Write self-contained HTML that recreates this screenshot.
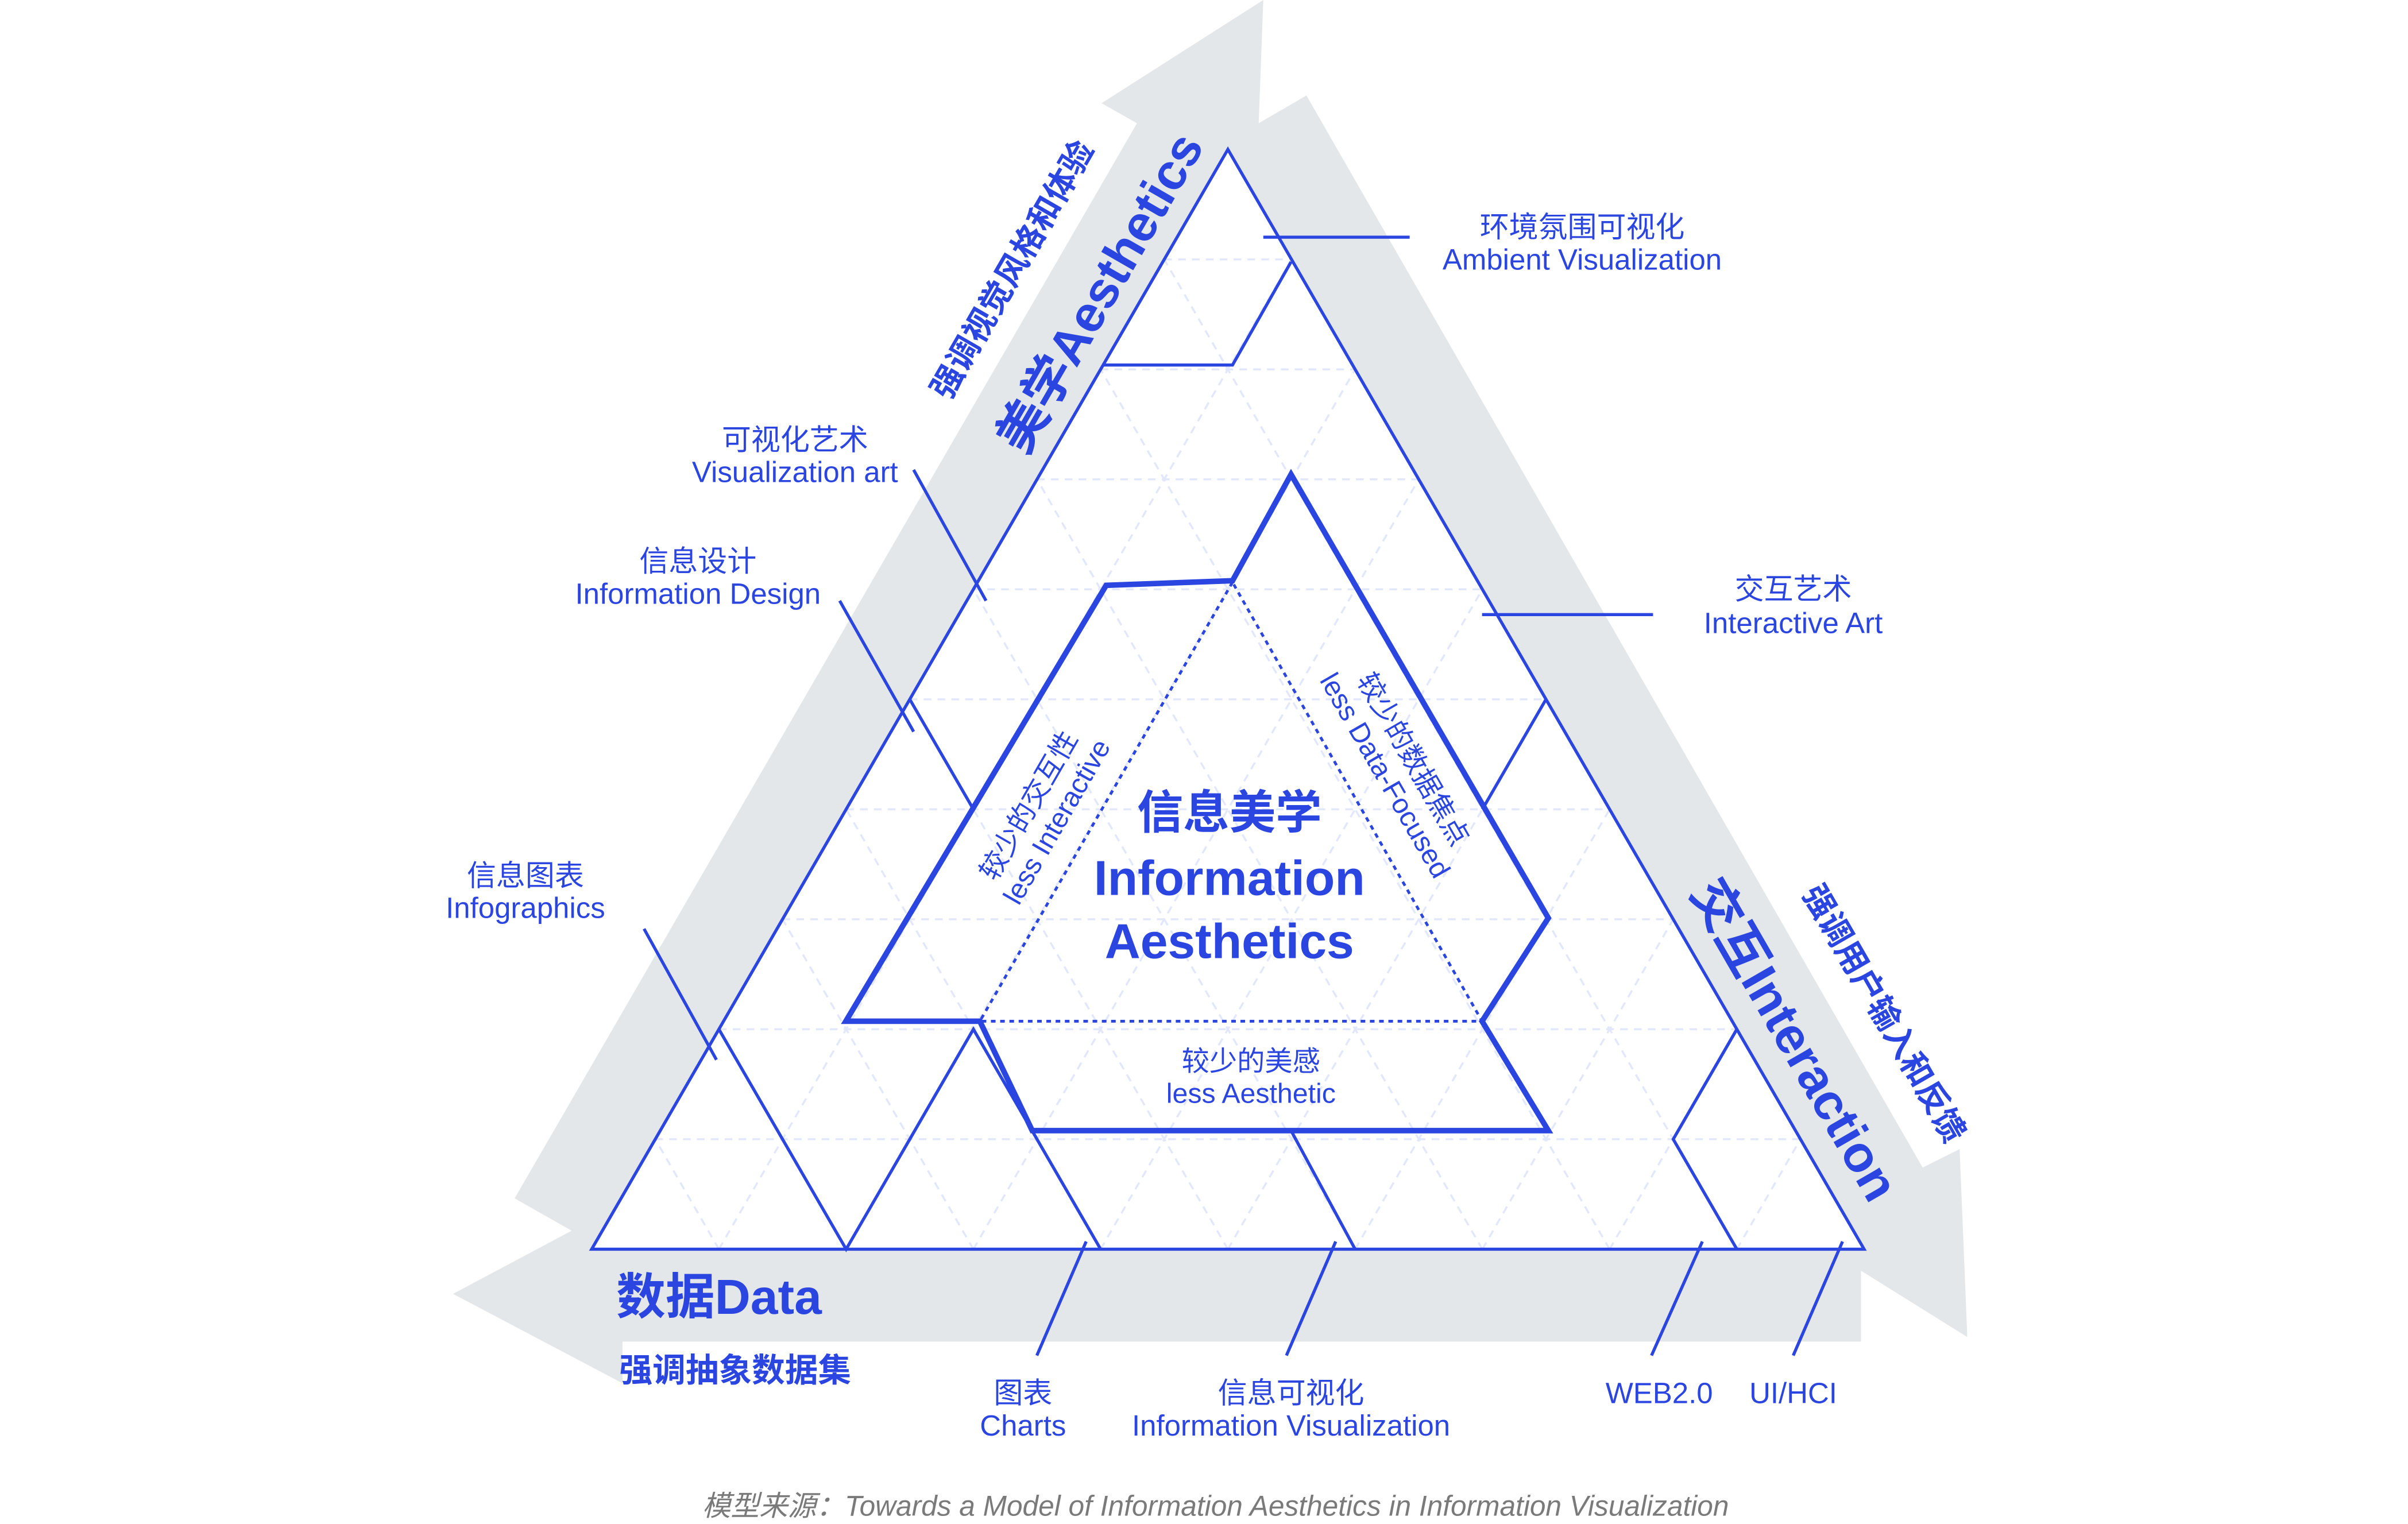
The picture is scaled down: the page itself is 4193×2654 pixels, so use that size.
<!DOCTYPE html>
<html><head><meta charset="utf-8"><style>
html,body{margin:0;padding:0;background:#fff;}
svg{display:block;}
text{font-family:"Liberation Sans","Noto Sans CJK SC",sans-serif;fill:#2a45e0;}
.b{font-weight:bold;}
</style></head><body>
<svg width="4193" height="2654" viewBox="0 0 1563 989.4" xmlns="http://www.w3.org/2000/svg">
<rect width="1563" height="989.4" fill="#fff"/>
<polygon fill="#e4e7ea" points="820,0 817,80 848,62 1248,758 1272,746 1277,868 1208,825 1208,871 404,871 404,898 294,840 371,799 334,778 738,80 715,67"/>
<polygon fill="#fff" points="797,97 384,811 1210,811"/>
<g stroke="#e3e7fb" stroke-width="1.3" stroke-dasharray="5,4" fill="none">
<line x1="755.7" y1="168.4" x2="838.3" y2="168.4"/>
<line x1="714.4" y1="239.8" x2="879.6" y2="239.8"/>
<line x1="673.1" y1="311.2" x2="920.9" y2="311.2"/>
<line x1="631.8" y1="382.6" x2="962.2" y2="382.6"/>
<line x1="590.5" y1="454" x2="1003.5" y2="454"/>
<line x1="549.2" y1="525.4" x2="1044.8" y2="525.4"/>
<line x1="507.9" y1="596.8" x2="1086.1" y2="596.8"/>
<line x1="466.6" y1="668.2" x2="1127.4" y2="668.2"/>
<line x1="425.3" y1="739.6" x2="1168.7" y2="739.6"/>
<line x1="466.6" y1="811" x2="838.3" y2="168.4"/>
<line x1="549.2" y1="811" x2="879.6" y2="239.8"/>
<line x1="631.8" y1="811" x2="920.9" y2="311.2"/>
<line x1="714.4" y1="811" x2="962.2" y2="382.6"/>
<line x1="797" y1="811" x2="1003.5" y2="454"/>
<line x1="879.6" y1="811" x2="1044.8" y2="525.4"/>
<line x1="962.2" y1="811" x2="1086.1" y2="596.8"/>
<line x1="1044.8" y1="811" x2="1127.4" y2="668.2"/>
<line x1="1127.4" y1="811" x2="1168.7" y2="739.6"/>
<line x1="466.6" y1="811" x2="425.3" y2="739.6"/>
<line x1="549.2" y1="811" x2="466.6" y2="668.2"/>
<line x1="631.8" y1="811" x2="507.9" y2="596.8"/>
<line x1="714.4" y1="811" x2="549.2" y2="525.4"/>
<line x1="797" y1="811" x2="590.5" y2="454"/>
<line x1="879.6" y1="811" x2="631.8" y2="382.6"/>
<line x1="962.2" y1="811" x2="673.1" y2="311.2"/>
<line x1="1044.8" y1="811" x2="714.4" y2="239.8"/>
<line x1="1127.4" y1="811" x2="755.7" y2="168.4"/>
</g>
<g stroke="#2a45e0" stroke-width="2" fill="none" stroke-linejoin="miter">
<polygon points="797,97 384,811 1210,811"/>
<polyline points="716,237 800,237 838,170"/>
<line x1="590.5" y1="454" x2="631.8" y2="525.4"/>
<line x1="1003.5" y1="454" x2="962.2" y2="525.4"/>
<polyline points="1127.4,668.2 1086.1,739.6 1127.4,811"/>
<polyline points="466.6,668.2 549.2,811 631.8,668.2 714.4,811"/>
<line x1="838" y1="734" x2="879.6" y2="811"/>
<line x1="820" y1="154" x2="915" y2="154"/>
<line x1="593" y1="305" x2="640" y2="390"/>
<line x1="545" y1="390" x2="593" y2="475"/>
<line x1="418" y1="603" x2="465" y2="688"/>
<line x1="962" y1="399" x2="1073" y2="399"/>
<line x1="705" y1="806" x2="673" y2="880"/>
<line x1="867" y1="806" x2="835" y2="880"/>
<line x1="1105" y1="806" x2="1072" y2="880"/>
<line x1="1196" y1="806" x2="1164" y2="880"/>
</g>
<polygon stroke="#2a45e0" stroke-width="3.6" fill="none" stroke-linejoin="miter" points="838,308 1005,596 962,663 1005,734 670,734 636,663 549,663 718,380 800,377"/>
<polygon stroke="#2a45e0" stroke-width="1.8" fill="none" stroke-dasharray="3,3" points="800,378 636,663 962,663"/>
<text class="b" font-size="33" text-anchor="middle" dominant-baseline="central" transform="rotate(-60 714 190)" x="714" y="190">美学Aesthetics</text>
<text class="b" font-size="21" text-anchor="middle" dominant-baseline="central" transform="rotate(-60 657 175)" x="657" y="175">强调视觉风格和体验</text>
<text class="b" font-size="33" text-anchor="middle" dominant-baseline="central" transform="rotate(60 1165 675)" x="1165" y="675">交互Interaction</text>
<text class="b" font-size="21" text-anchor="middle" dominant-baseline="central" transform="rotate(60 1223 658)" x="1223" y="658">强调用户输入和反馈</text>
<text class="b" font-size="32" x="400" y="853">数据Data</text>
<text class="b" font-size="21.5" x="402" y="897">强调抽象数据集</text>
<text class="b" font-size="30" text-anchor="middle" x="798" y="538">信息美学</text>
<text class="b" font-size="32" text-anchor="middle" x="798" y="581">Information</text>
<text class="b" font-size="32" text-anchor="middle" x="798" y="622">Aesthetics</text>
<g font-size="18" text-anchor="middle">
<g transform="rotate(-60 680 530)"><text x="680" y="522">较少的交互性</text><text x="680" y="543">less Interactive</text></g>
<g transform="rotate(60 905 500)"><text x="905" y="492">较少的数据焦点</text><text x="905" y="513">less Data-Focused</text></g>
<text x="812" y="695">较少的美感</text><text x="812" y="716">less Aesthetic</text>
</g>
<g text-anchor="middle" font-size="19">
<text x="1027" y="154">环境氛围可视化</text><text x="1027" y="175">Ambient Visualization</text>
<text x="516" y="292">可视化艺术</text><text x="516" y="313">Visualization art</text>
<text x="453" y="371">信息设计</text><text x="453" y="392">Information Design</text>
<text x="341" y="575">信息图表</text><text x="341" y="596">Infographics</text>
<text x="1164" y="389">交互艺术</text><text x="1164" y="411">Interactive Art</text>
<text x="664" y="911">图表</text><text x="664" y="932">Charts</text>
<text x="838" y="911">信息可视化</text><text x="838" y="932">Information Visualization</text>
<text x="1077" y="911">WEB2.0</text>
<text x="1164" y="911">UI/HCI</text>
</g>
<text x="789" y="984" font-size="18.5" font-style="italic" text-anchor="middle" style="fill:#7a7a7a">模型来源：Towards a Model of Information Aesthetics in Information Visualization</text>
</svg>
</body></html>
